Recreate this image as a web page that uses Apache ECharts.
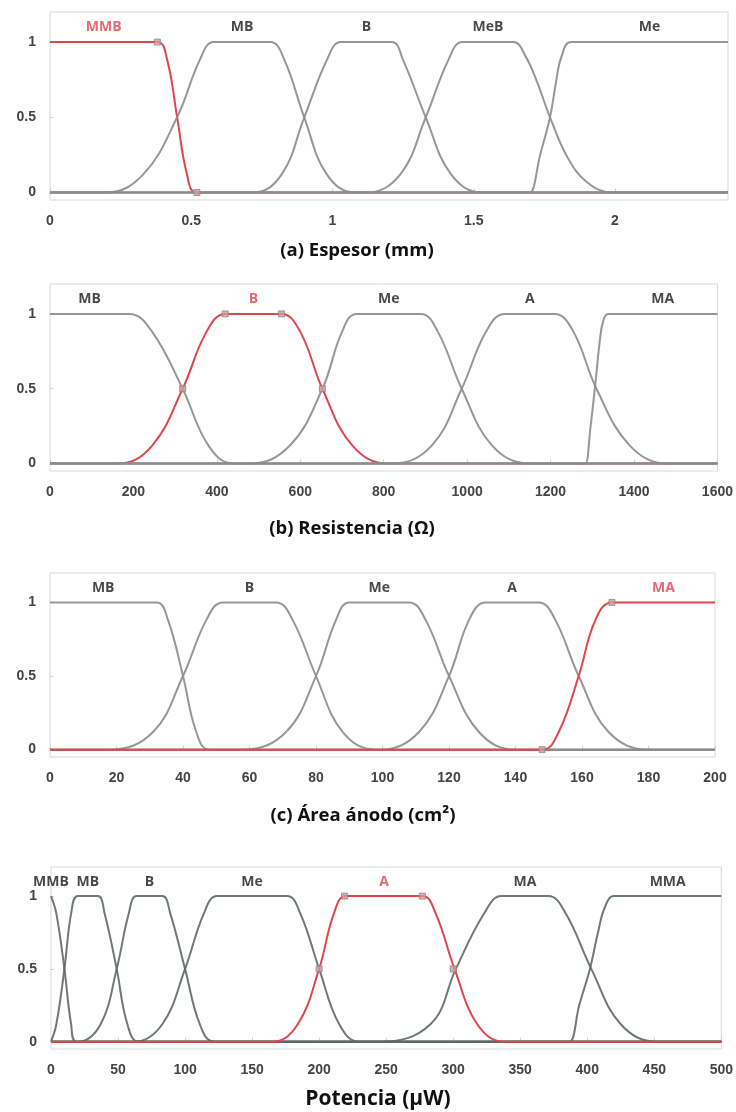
<!DOCTYPE html>
<html>
<head>
<meta charset="utf-8">
<title>Funciones de pertenencia</title>
<script src="https://cdn.jsdelivr.net/npm/echarts@6/dist/echarts.min.js"></script>
<style>
  html, body { margin: 0; padding: 0; background: #fff; }
  #chart { width: 736px; height: 1112px; }
</style>
</head>
<body>
<div id="chart"></div>
<script>
// (a) Espesor (mm)
const namesA = ['MMB', 'MB', 'B', 'MeB', 'Me']
const curvesA = [
  [[0, 1], [0.38, 1], [0.415, 0.88], [0.45, 0.5], [0.485, 0.12], [0.52, 0], [2.4, 0]],
  [[0, 0], [0.2, 0], [0.33, 0.12], [0.45, 0.5], [0.53, 0.88], [0.58, 1], [0.78, 1], [0.83, 0.88], [0.9, 0.5], [0.98, 0.12], [1.08, 0], [2.4, 0]],
  [[0, 0], [0.72, 0], [0.82, 0.12], [0.9, 0.5], [0.98, 0.88], [1.03, 1], [1.21, 1], [1.25, 0.88], [1.33, 0.5], [1.42, 0.12], [1.53, 0], [2.4, 0]],
  [[0, 0], [1.12, 0], [1.24, 0.12], [1.33, 0.5], [1.41, 0.88], [1.46, 1], [1.64, 1], [1.685, 0.9], [1.725, 0.73], [1.77, 0.5], [1.83, 0.24], [1.9, 0.07], [1.99, 0], [2.4, 0]],
  [[0, 0], [1.69, 0], [1.70, 0], [1.735, 0.25], [1.77, 0.5], [1.79, 0.72], [1.81, 0.9], [1.845, 1], [2.4, 1]]
]
const redA = 0
const markersA = [[0.38, 1], [0.52, 0]]
const ticksA = [0, 0.5, 1, 1.5, 2]

// (b) Resistencia (Ω)
const namesB = ['MB', 'B', 'Me', 'A', 'MA']
const curvesB = [
  [[0, 1], [190, 1], [245, 0.88], [318, 0.5], [380, 0.12], [440, 0], [1600, 0]],
  [[0, 0], [165, 0], [245, 0.12], [318, 0.5], [375, 0.88], [420, 1], [555, 1], [600, 0.88], [653, 0.5], [725, 0.12], [810, 0], [1600, 0]],
  [[0, 0], [480, 0], [575, 0.12], [653, 0.5], [700, 0.88], [735, 1], [889, 1], [930, 0.88], [987, 0.5], [1060, 0.12], [1150, 0], [1600, 0]],
  [[0, 0], [820, 0], [915, 0.12], [987, 0.5], [1045, 0.88], [1090, 1], [1210, 1], [1255, 0.88], [1310, 0.5], [1390, 0.12], [1480, 0], [1600, 0]],
  [[0, 0], [1280, 0], [1284, 0], [1296, 0.25], [1308, 0.55], [1318, 0.82], [1326, 0.95], [1338, 1], [1600, 1]]
]
const redB = 1
const markersB = [[318, 0.5], [420, 1], [555, 1], [653, 0.5]]
const ticksB = [0, 200, 400, 600, 800, 1000, 1200, 1400, 1600]

// (c) Área ánodo (cm²)
const namesC = ['MB', 'B', 'Me', 'A', 'MA']
const curvesC = [
  [[0, 1], [32, 1], [35.5, 0.88], [40, 0.5], [44, 0.12], [48, 0], [200, 0]],
  [[0, 0], [18, 0], [31, 0.12], [40, 0.5], [47, 0.88], [52, 1], [68, 1], [73, 0.88], [80, 0.5], [88, 0.12], [98, 0], [200, 0]],
  [[0, 0], [58, 0], [71, 0.12], [80, 0.5], [86, 0.88], [90, 1], [108, 1], [113, 0.88], [120, 0.5], [129, 0.12], [140, 0], [200, 0]],
  [[0, 0], [99, 0], [111, 0.12], [120, 0.5], [126, 0.88], [131, 1], [147, 1], [152, 0.88], [159, 0.5], [168, 0.12], [180, 0], [200, 0]],
  [[0, 0], [148, 0], [153, 0.12], [159, 0.5], [164, 0.88], [169, 1], [200, 1]]
]
const redC = 4
const markersC = [[148, 0], [169, 1]]
const ticksC = [0, 20, 40, 60, 80, 100, 120, 140, 160, 180, 200]

// (d) Potencia (μW)
const namesD = ['MMB', 'MB', 'B', 'Me', 'A', 'MA', 'MMA']
const curvesD = [
  [[0, 1], [4, 0.88], [10, 0.5], [15, 0.12], [19, 0], [500, 0]],
  [[0, 0], [4, 0.12], [10, 0.5], [15, 0.88], [20, 1], [35, 1], [40, 0.88], [49, 0.5], [57, 0.12], [66, 0], [500, 0]],
  [[0, 0], [20, 0], [37, 0.12], [49, 0.5], [58, 0.88], [64, 1], [83, 1], [89, 0.88], [100, 0.5], [111, 0.12], [122, 0], [500, 0]],
  [[0, 0], [62, 0], [83, 0.12], [100, 0.5], [114, 0.88], [124, 1], [176, 1], [186, 0.88], [200, 0.5], [215, 0.12], [230, 0], [500, 0]],
  [[0, 0], [165, 0], [184, 0.12], [200, 0.5], [211, 0.88], [220, 1], [277, 1], [287, 0.88], [301, 0.5], [318, 0.12], [338, 0], [500, 0]],
  [[0, 0], [245, 0], [283, 0.12], [302, 0.5], [323, 0.88], [336, 1], [371, 1], [384, 0.88], [403, 0.5], [425, 0.12], [452, 0], [500, 0]],
  [[0, 0], [383, 0], [387, 0], [394, 0.25], [402, 0.5], [408, 0.75], [413, 0.92], [420, 1], [500, 1]]
]
const redD = 4
const markersD = [[200, 0.5], [219, 1], [277, 1], [300, 0.5]]
const ticksD = [0, 50, 100, 150, 200, 250, 300, 350, 400, 450, 500]

const yTicks = [0, 0.5, 1]
const titles = ['(a) Espesor (mm)', '(b) Resistencia (Ω)', '(c) Área ánodo (cm²)', 'Potencia (μW)']

const panels = [
  { names: namesA, curves: curvesA, red: redA, markers: markersA, ticks: ticksA },
  { names: namesB, curves: curvesB, red: redB, markers: markersB, ticks: ticksB },
  { names: namesC, curves: curvesC, red: redC, markers: markersC, ticks: ticksC },
  { names: namesD, curves: curvesD, red: redD, markers: markersD, ticks: ticksD }
]

// layout / styles per panel
const layout = [
  { left: 50, top: 12, width: 678, height: 188, gray: '#8c8c8c', redOnTop: false, titleX: 357, titleY: 251, titleSize: 18.5 },
  { left: 50, top: 284, width: 668, height: 187, gray: '#8c8c8c', redOnTop: false, titleX: 352, titleY: 529, titleSize: 18.5 },
  { left: 50, top: 573, width: 665, height: 184, gray: '#8c8c8c', redOnTop: true, titleX: 363, titleY: 816, titleSize: 18.5 },
  { left: 51, top: 867, width: 677, height: 182, gray: '#5f6a66', redOnTop: true, titleX: 378, titleY: 1099, titleSize: 21 }
]
const RED = '#e0454d'

const chart = echarts.init(document.getElementById('chart'), null, { renderer: 'canvas' })

const grid = []
const xAxis = []
const yAxis = []
const series = []
const graphic = []

panels.forEach((p, i) => {
  const L = layout[i]
  const xMax = Math.max(...p.curves.map(c => c[c.length - 1][0]))
  grid.push({
    left: L.left, top: L.top, width: L.width, height: L.height,
    show: true, borderColor: '#d9d9d9', borderWidth: 1, backgroundColor: '#fff'
  })
  xAxis.push({
    type: 'value', gridIndex: i, min: 0, max: xMax,
    axisLine: { show: false },
    axisTick: { show: true, inside: true, length: 4, lineStyle: { color: '#cfcfcf' }, customValues: p.ticks },
    axisLabel: {
      customValues: p.ticks, margin: 14, color: '#444', fontSize: 14, fontWeight: 'bold',
      fontFamily: 'Liberation Sans', formatter: v => String(v)
    },
    splitLine: { show: false }
  })
  yAxis.push({
    type: 'value', gridIndex: i, min: -0.05, max: 1.2,
    axisLine: { show: false },
    axisTick: { show: true, inside: true, length: 3, lineStyle: { color: '#cfcfcf' }, customValues: yTicks },
    axisLabel: {
      customValues: yTicks, margin: 14, color: '#444', fontSize: 14, fontWeight: 'bold',
      fontFamily: 'Liberation Sans', formatter: v => String(v)
    },
    splitLine: { show: false }
  })

  const labelData = []
  p.curves.forEach((c, j) => {
    const isRed = j === p.red
    series.push({
      type: 'line', name: p.names[j], xAxisIndex: i, yAxisIndex: i,
      data: c, smooth: 0.4, showSymbol: false, silent: true,
      lineStyle: { color: isRed ? RED : L.gray, width: 2, opacity: isRed ? 1 : 0.9 },
      z: isRed ? (L.redOnTop ? 4 : 1) : 2
    })
    // put the name over the middle of the plateau (points at 1)
    const top = c.filter(d => d[1] === 1).map(d => d[0])
    const mid = (Math.min(...top) + Math.max(...top)) / 2
    labelData.push({
      name: p.names[j], value: [mid, 1.1],
      label: { color: isRed ? RED : '#1a1a1a' }
    })
  })

  series.push({
    type: 'scatter', xAxisIndex: i, yAxisIndex: i, symbolSize: 0, silent: true,
    data: labelData, z: 6,
    label: {
      show: true, position: 'inside', formatter: d => d.name,
      fontFamily: 'Open Sans', fontWeight: 'bold', fontSize: 14
    }
  })

  series.push({
    type: 'scatter', xAxisIndex: i, yAxisIndex: i, silent: true,
    data: p.markers, symbol: 'rect', symbolSize: 6, z: 5,
    itemStyle: { color: '#d49a9a', borderColor: '#8a8a8a', borderWidth: 1 }
  })

  graphic.push({
    type: 'text', x: L.titleX, y: L.titleY,
    style: {
      text: titles[i], textAlign: 'center', textVerticalAlign: 'middle',
      font: 'bold ' + L.titleSize + 'px "Open Sans"', fill: '#111'
    }
  })
})

chart.setOption({
  animation: false,
  backgroundColor: '#fff',
  grid,
  xAxis,
  yAxis,
  series,
  graphic
})
</script>
</body>
</html>
